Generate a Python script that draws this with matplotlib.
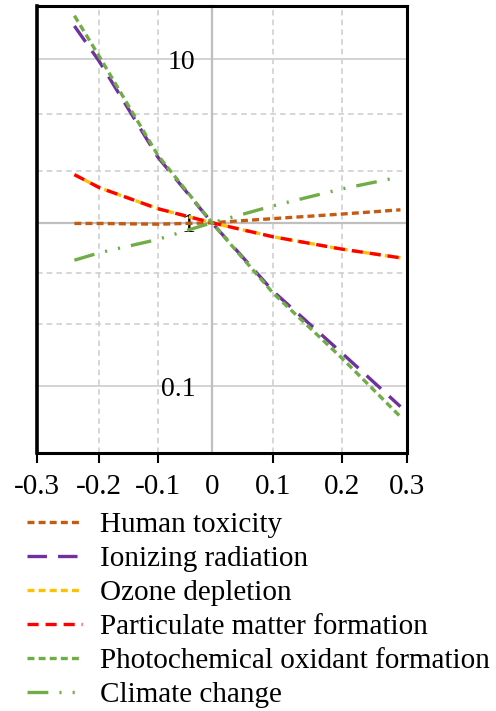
#!/usr/bin/env python

import numpy as np
import matplotlib
matplotlib.use('Agg')
import matplotlib.pyplot as plt
from matplotlib.ticker import FixedLocator, FixedFormatter, NullFormatter

# --------------------------------------------------------------------------
# Data
#
x_vals = [-0.24, -0.2, -0.1, 0.0, 0.1, 0.2, 0.29]
human_toxicity = [0.99, 0.99, 0.98, 1.0, 1.06, 1.13, 1.20]
ionizing_radiation = [16.0, 9.7, 2.53, 1.0, 0.38, 0.16, 0.075]
ozone_depletion = [1.97, 1.64, 1.22, 1.0, 0.82, 0.69, 0.61]
particulate_matter = [1.97, 1.64, 1.22, 1.0, 0.82, 0.69, 0.61]
photochemical_oxidant = [18.5, 10.4, 2.6, 1.0, 0.37, 0.149, 0.065]
climate_change = [0.59, 0.655, 0.79, 1.0, 1.27, 1.61, 1.91]

series_labels = ['Human toxicity', 'Ionizing radiation', 'Ozone depletion',
                 'Particulate matter formation',
                 'Photochemical oxidant formation', 'Climate change']

x_ticks = [-0.3, -0.2, -0.1, 0.0, 0.1, 0.2, 0.3]
x_tick_labels = ['-0.3', '-0.2', '-0.1', '0', '0.1', '0.2', '0.3']
y_ticks = [0.1, 1, 10]
y_tick_labels = ['0.1', '1', '10']
y_minor = [0.24, 0.49, 2.08, 4.6]

# --------------------------------------------------------------------------
# Styles
#
colors = ['#C55A11', '#7030A0', '#FFC000', '#FF0000', '#70AD47', '#70AD47']
dashes = [(0, (5, 3)), (0, (14, 8)), (0, (5, 3)), (0, (8, 5)),
          (0, (5, 3)), (0, (15, 8, 1.5, 8, 1.5, 8))]

# the x axis of the original is slightly uneven, follow its tick spacing
x_warp = [37, 99, 157, 211, 272, 340, 405]


def fwd(x):
    return np.interp(x, x_ticks, x_warp)


def inv(p):
    return np.interp(p, x_warp, x_ticks)


plt.rcParams['font.family'] = ['Liberation Serif', 'DejaVu Serif']
plt.rcParams['lines.scale_dashes'] = False

fig = plt.figure(figsize=(4.96, 7.11), dpi=100)
ax = fig.add_axes([37 / 496, (711 - 453) / 711, 370 / 496, 447 / 711])

ax.set_xscale('function', functions=(fwd, inv))
ax.set_yscale('log')
ax.set_xlim(-0.3, 0.3)
ax.set_ylim(0.039, 21.2)

# grid
ax.xaxis.set_major_locator(FixedLocator(x_ticks))
ax.xaxis.set_major_formatter(FixedFormatter(x_tick_labels))
ax.xaxis.set_minor_locator(FixedLocator([]))
ax.yaxis.set_major_locator(FixedLocator(y_ticks))
ax.yaxis.set_major_formatter(FixedFormatter(y_tick_labels))
ax.yaxis.set_minor_locator(FixedLocator(y_minor))
ax.yaxis.set_minor_formatter(NullFormatter())
ax.grid(True, axis='x', which='major', color='#D0D0D0', linestyle=(0, (4, 3)),
        linewidth=1.2, zorder=0)
ax.grid(True, axis='y', which='major', color='#D3D3D3', linestyle='-',
        linewidth=1.4, zorder=0)
ax.grid(True, axis='y', which='minor', color='#D0D0D0', linestyle=(0, (4, 3)),
        linewidth=1.2, zorder=0)
ax.axhline(1, color='#BFBFBF', linewidth=1.6, zorder=1)
ax.set_axisbelow(True)

# y axis sits at x = 0, frame drawn around the plot area
ax.spines['left'].set_position(('data', 0))
ax.spines['left'].set_color('#BFBFBF')
ax.spines['left'].set_linewidth(1.6)
ax.spines['left'].set_zorder(1)
for side in ['top', 'right', 'bottom']:
    ax.spines[side].set_color('black')
    ax.spines[side].set_linewidth(2.2)
ax.axvline(-0.3, color='black', linewidth=2.6, clip_on=False, zorder=5)

ax.tick_params(axis='y', which='both', length=0, pad=12, labelsize=20)
ax.tick_params(axis='x', which='major', direction='out', length=7, width=1.5,
               pad=8, labelsize=21)
ax.xaxis.get_major_ticks()[3].tick1line.set_visible(False)

# --------------------------------------------------------------------------
# Plot all series
#
series = [human_toxicity, ionizing_radiation, ozone_depletion,
          particulate_matter, photochemical_oxidant, climate_change]
handles = []
for vals, label, col, ls in zip(series, series_labels, colors, dashes):
    line, = ax.plot(x_vals, vals, color=col, linestyle=ls, linewidth=2.4,
                    dash_capstyle='butt', label=label, zorder=3)
    handles.append(line)

fig.legend(handles=handles, loc='upper left',
           bbox_to_anchor=(27 / 496, (711 - 512) / 711), frameon=False,
           fontsize=21, handlelength=1.9, handletextpad=0.6,
           labelspacing=0.26, borderpad=0, borderaxespad=0)

fig.savefig('out.png', dpi=100)
